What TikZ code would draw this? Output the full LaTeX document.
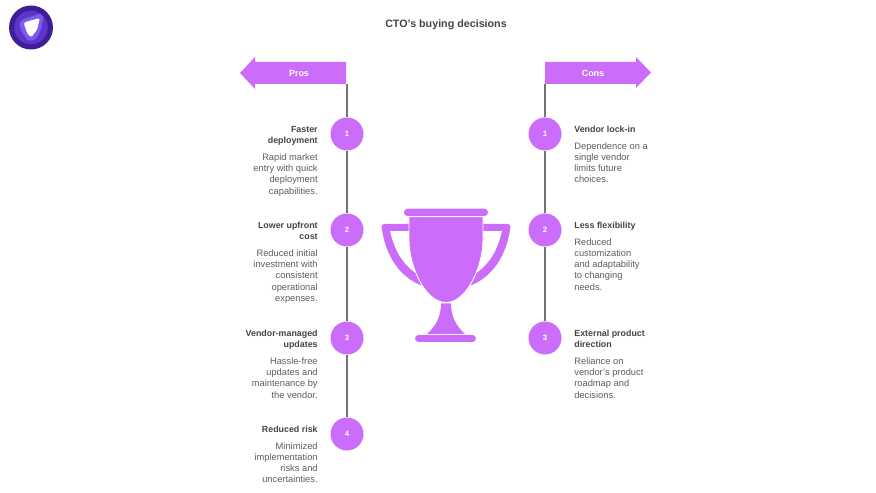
\documentclass[tikz,border=0pt]{standalone}
\usepackage{fontspec}
\setmainfont{Liberation Sans}
\usepackage[HTML]{xcolor}
\usepackage{tikz}
\usetikzlibrary{positioning, arrows, arrows.meta}
\definecolor{trophy}{HTML}{CC6CFB}
\definecolor{headtext}{HTML}{444444}
\definecolor{bodytext}{HTML}{5C5C5C}
\definecolor{logodark}{HTML}{3F1D96}
\definecolor{logomid}{HTML}{5A36C8}
\definecolor{logolight}{HTML}{7B5CEE}
\tikzset{
  stepdot/.style={circle, fill=trophy, draw=none, minimum size=33*0.02cm, inner sep=0pt, text=white, font=\fontsize{4.4}{5}\selectfont\bfseries},
  stemline/.style={draw=black!55, line width=0.65pt},
  banner/.style={text=white, font=\fontsize{5.1}{6}\selectfont\bfseries},
  headl/.style={anchor=north east, align=right, inner sep=0pt, text=headtext, font=\fontsize{5.05}{6.3}\selectfont\bfseries},
  bodyl/.style={anchor=north east, align=right, inner sep=0pt, text=bodytext, font=\fontsize{5.3}{6.4}\selectfont},
  headr/.style={anchor=north west, align=left, inner sep=0pt, text=headtext, font=\fontsize{5.05}{6.3}\selectfont\bfseries},
  bodyr/.style={anchor=north west, align=left, inner sep=0pt, text=bodytext, font=\fontsize{5.3}{6.4}\selectfont}
}

\begin{document}
\begin{tikzpicture}[x=0.02cm, y=-0.02cm]
\useasboundingbox (0,0) rectangle (876,493);
% logo
\fill[logodark] (31,27.5) circle (22);
\fill[logomid] (31,27.5) circle (16.8);
\fill[logolight, rounded corners=4pt] (17.5,21) -- (44,12.5) -- (41,32) -- (32,43.5) -- (24,37) -- cycle;
\fill[white, rounded corners=1.3pt] (23.5,22.5) -- (40,18) -- (37,30) -- (31,37.5) -- (27,33) -- cycle;
% title
\node[text=headtext, font=\fontsize{6.1}{8}\selectfont\bfseries] (title) at (446,25) {CTO's buying decisions};
% arrows
\fill[trophy] (346,62) -- (255,62) -- (255,57) -- (240,73) -- (255,89) -- (255,84) -- (346,84) -- cycle;
\fill[trophy] (545,62) -- (636,62) -- (636,57) -- (651,72.5) -- (636,88) -- (636,84) -- (545,84) -- cycle;
\node[banner] (pros) at (299,73) {Pros};
\node[banner] (cons) at (593,73) {Cons};
\coordinate (prostop) at (347,84);
\coordinate (constop) at (545,84);
% numbered dots
\foreach \n/\y in {1/134, 2/230, 3/338, 4/434}
  \node[stepdot] (pro\n) at (347,\y) {\n};
\foreach \n/\y in {1/134, 2/230, 3/338}
  \node[stepdot] (con\n) at (545,\y) {\n};
\draw[stemline] (prostop) -- (pro1) -- (pro2) -- (pro3) -- (pro4);
\draw[stemline] (constop) -- (con1) -- (con2) -- (con3);
% pros text
\node[headl] (prohead1) at (318,125.8) {Faster\\deployment};
\node[bodyl] (probody1) at (318,153.3) {Rapid market\\entry with quick\\deployment\\capabilities.};
\node[headl] (prohead2) at (318,221.8) {Lower upfront\\cost};
\node[bodyl] (probody2) at (318,249.3) {Reduced initial\\investment with\\consistent\\operational\\expenses.};
\node[headl] (prohead3) at (318,329.8) {Vendor-managed\\updates};
\node[bodyl] (probody3) at (318,357.3) {Hassle-free\\updates and\\maintenance by\\the vendor.};
\node[headl] (prohead4) at (318,425.8) {Reduced risk};
\node[bodyl] (probody4) at (318,442) {Minimized\\implementation\\risks and\\uncertainties.};
% cons text
\node[headr] (conhead1) at (574,125.8) {Vendor lock-in};
\node[bodyr] (conbody1) at (574,142) {Dependence on a\\single vendor\\limits future\\choices.};
\node[headr] (conhead2) at (574,221.8) {Less flexibility};
\node[bodyr] (conbody2) at (574,238) {Reduced\\customization\\and adaptability\\to changing\\needs.};
\node[headr] (conhead3) at (574,329.8) {External product\\direction};
\node[bodyr] (conbody3) at (574,357.3) {Reliance on\\vendor's product\\roadmap and\\decisions.};
% handles
\foreach \s in {1,-1} {
  \begin{scope}[shift={(446,0)}, xscale=\s]
    \fill[trophy] (-36,224) -- (-61,224) .. controls (-64.5,224) and (-65,226) .. (-64,230) .. controls (-60,256) and (-46,278) .. (-23,286) -- (-29,274) .. controls (-43,265) and (-52,250) .. (-56,231) -- (-36,231) -- cycle;
  \end{scope}
}
% trophy
\filldraw[fill=trophy, draw=white, line width=0.5pt] (409,216.8) -- (483,216.8) -- (483,240) .. controls (483,266) and (467,302.5) .. (446,302.5) .. controls (425,302.5) and (409,266) .. (409,240) -- cycle;
\fill[trophy, rounded corners=2pt] (404,208.7) rectangle (488,216);
\fill[trophy] (441,303.5) -- (451,303.5) .. controls (451,315) and (455,325) .. (465,334) -- (427,334) .. controls (437,325) and (441,315) .. (441,303.5) -- cycle;
\fill[trophy, rounded corners=2pt] (415,335) rectangle (476,342);
\end{tikzpicture}
\end{document}
